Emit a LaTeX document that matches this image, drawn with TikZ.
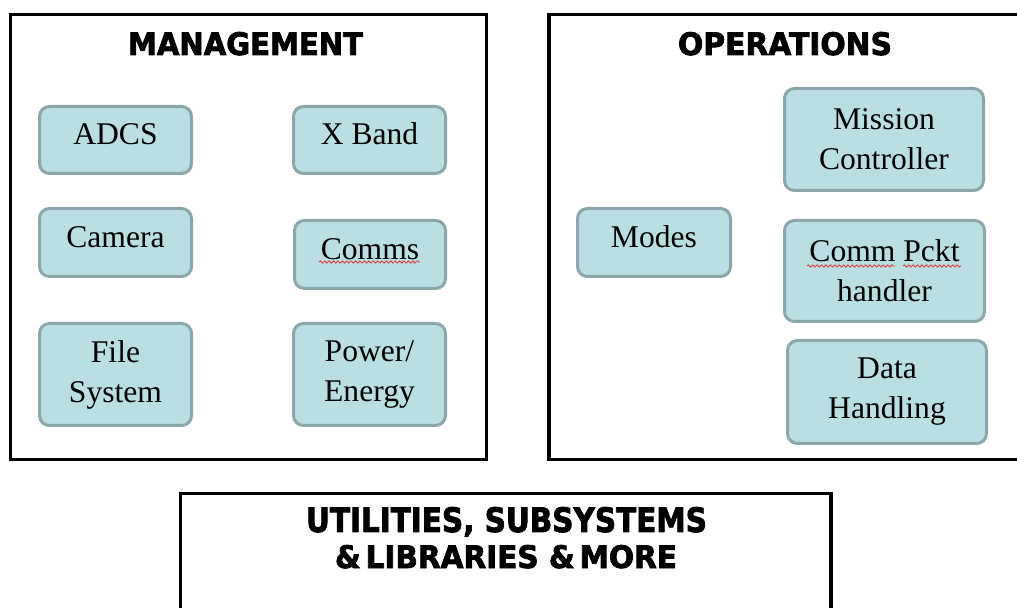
\documentclass[tikz,border=0pt]{standalone}
\usepackage{fontspec}
\setmainfont{Liberation Serif}
\newfontfamily\titlefont{DejaVu Sans}[BoldFeatures={FakeBold=2.5}]
\usetikzlibrary{decorations.pathmorphing}
\definecolor{boxfill}{HTML}{B9DFE3}
\definecolor{boxline}{HTML}{8CA7AA}
\definecolor{squig}{HTML}{E04040}
\tikzset{
  panel/.style={draw=black, line width=1.75pt},
  module/.style={draw=boxline, fill=boxfill, line width=1.5pt, rounded corners=5pt,
    inner sep=0pt, align=center, font=\fontsize{15.8pt}{20pt}\selectfont},
  single/.style={text height=10.4pt, text depth=5.4pt},
  ttl/.style={inner sep=0pt, anchor=base, font=\titlefont\bfseries},
  spell/.style={draw=squig, line width=0.45pt, decorate,
    decoration={snake, amplitude=0.55pt, segment length=2.2pt}}
}
\begin{document}
\begin{tikzpicture}[x=0.5pt, y=-0.5pt]
\clip (0,0) rectangle (1017,608);
\fill[white] (0,0) rectangle (1017,608);
% panels
\draw[panel] (10.5,14.5) rectangle (486.5,459.5);
\draw[panel] (549,14.5) rectangle (1025,459.5);
\draw[panel] (180.5,493.5) rectangle (831,630);
% titles
\node[ttl] (tmgmt) at (245.5,55) {\resizebox{117.5pt}{11.5pt}{MANAGEMENT}};
\node[ttl] (tops) at (785,55) {\resizebox{107pt}{11.5pt}{OPERATIONS}};
\node[ttl] (tutil1) at (506.5,532) {\resizebox{200.5pt}{12.5pt}{UTILITIES, SUBSYSTEMS}};
\node[ttl] (tutil2) at (506,568) {\resizebox{171pt}{11.5pt}{\&\,LIBRARIES \&\,MORE}};
% management modules
\node[module, single, minimum width=76pt, minimum height=33.5pt] (adcs) at (115.5,140) {ADCS};
\node[module, single, minimum width=76pt, minimum height=33.5pt] (xband) at (369.5,140) {X Band};
\node[module, single, minimum width=76pt, minimum height=34pt] (camera) at (115.5,242.5) {Camera};
\node[module, single, minimum width=75.5pt, minimum height=34pt] (comms) at (370,254.5) {Comms};
\node[module, minimum width=76pt, minimum height=51pt] (files) at (115.5,374.5) {File\\System};
\node[module, minimum width=76pt, minimum height=51pt] (power) at (369.5,374.5) {Power/\\Energy};
% operations modules
\node[module, minimum width=99.5pt, minimum height=51pt] (mission) at (884,139.5) {Mission\\Controller};
\node[module, single, minimum width=76.5pt, minimum height=34pt] (modes) at (654,242.5) {Modes};
\node[module, minimum width=100pt, minimum height=50.5pt] (pckt) at (884.5,271) {Comm Pckt\\handler};
\node[module, minimum width=99.5pt, minimum height=51.5pt] (data) at (887,392) {Data\\Handling};
% spell-check underlines
\draw[spell] (319,262) -- (420,262);
\draw[spell] (807,266) -- (895,266);
\draw[spell] (903,266) -- (961,266);
\end{tikzpicture}
\end{document}
